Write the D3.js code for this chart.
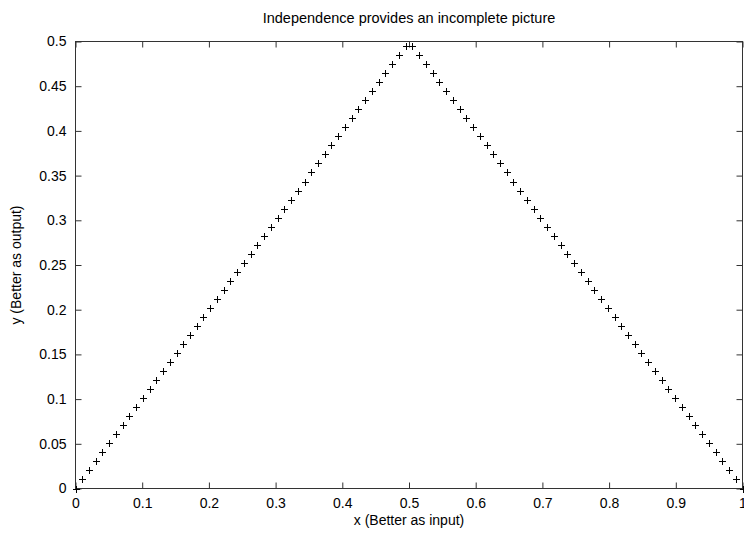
<!DOCTYPE html>
<html>
<head>
<meta charset="utf-8">
<script src="https://cdn.jsdelivr.net/npm/d3@7"></script>
<style>
  html, body { margin: 0; padding: 0; background: #fff; }
  svg { display: block; }
  text { font-family: "Liberation Sans", Arial, Helvetica, sans-serif; fill: #000; }
</style>
</head>
<body>
<svg id="chart" width="744" height="533"></svg>
<script>
// Sampled points of the curve: x (better as input) and y (better as output)
const xValues = [
  0, 0.0101, 0.0202, 0.0303, 0.0404, 0.0505, 0.0606, 0.0707, 0.0808, 0.0909,
  0.1010, 0.1111, 0.1212, 0.1313, 0.1414, 0.1515, 0.1616, 0.1717, 0.1818, 0.1919,
  0.2020, 0.2121, 0.2222, 0.2323, 0.2424, 0.2525, 0.2626, 0.2727, 0.2828, 0.2929,
  0.3030, 0.3131, 0.3232, 0.3333, 0.3434, 0.3535, 0.3636, 0.3737, 0.3838, 0.3939,
  0.4040, 0.4141, 0.4242, 0.4343, 0.4444, 0.4545, 0.4646, 0.4747, 0.4848, 0.4949,
  0.5051, 0.5152, 0.5253, 0.5354, 0.5455, 0.5556, 0.5657, 0.5758, 0.5859, 0.5960,
  0.6061, 0.6162, 0.6263, 0.6364, 0.6465, 0.6566, 0.6667, 0.6768, 0.6869, 0.6970,
  0.7071, 0.7172, 0.7273, 0.7374, 0.7475, 0.7576, 0.7677, 0.7778, 0.7879, 0.7980,
  0.8081, 0.8182, 0.8283, 0.8384, 0.8485, 0.8586, 0.8687, 0.8788, 0.8889, 0.8990,
  0.9091, 0.9192, 0.9293, 0.9394, 0.9495, 0.9596, 0.9697, 0.9798, 0.9899, 1
];
const yValues = [
  0, 0.0101, 0.0202, 0.0303, 0.0404, 0.0505, 0.0606, 0.0707, 0.0808, 0.0909,
  0.1010, 0.1111, 0.1212, 0.1313, 0.1414, 0.1515, 0.1616, 0.1717, 0.1818, 0.1919,
  0.2020, 0.2121, 0.2222, 0.2323, 0.2424, 0.2525, 0.2626, 0.2727, 0.2828, 0.2929,
  0.3030, 0.3131, 0.3232, 0.3333, 0.3434, 0.3535, 0.3636, 0.3737, 0.3838, 0.3939,
  0.4040, 0.4141, 0.4242, 0.4343, 0.4444, 0.4545, 0.4646, 0.4747, 0.4848, 0.4949,
  0.4949, 0.4848, 0.4747, 0.4646, 0.4545, 0.4444, 0.4343, 0.4242, 0.4141, 0.4040,
  0.3939, 0.3838, 0.3737, 0.3636, 0.3535, 0.3434, 0.3333, 0.3232, 0.3131, 0.3030,
  0.2929, 0.2828, 0.2727, 0.2626, 0.2525, 0.2424, 0.2323, 0.2222, 0.2121, 0.2020,
  0.1919, 0.1818, 0.1717, 0.1616, 0.1515, 0.1414, 0.1313, 0.1212, 0.1111, 0.1010,
  0.0909, 0.0808, 0.0707, 0.0606, 0.0505, 0.0404, 0.0303, 0.0202, 0.0101, 0
];

const xTicks = [0, 0.1, 0.2, 0.3, 0.4, 0.5, 0.6, 0.7, 0.8, 0.9, 1];
const xTickLabels = ["0", "0.1", "0.2", "0.3", "0.4", "0.5", "0.6", "0.7", "0.8", "0.9", "1"];
const yTicks = [0, 0.05, 0.1, 0.15, 0.2, 0.25, 0.3, 0.35, 0.4, 0.45, 0.5];
const yTickLabels = ["0", "0.05", "0.1", "0.15", "0.2", "0.25", "0.3", "0.35", "0.4", "0.45", "0.5"];

const titleText = "Independence provides an incomplete picture";
const xTitle = "x (Better as input)";
const yTitle = "y (Better as output)";

const svg = d3.select("#chart");
const plot = { left: 75.5, right: 742.5, top: 41.5, bottom: 488.5 };

const x = d3.scaleLinear().domain([0, 1]).range([plot.left, plot.right]);
const y = d3.scaleLinear().domain([0, 0.5]).range([plot.bottom, plot.top]);

const tickLen = 6;
const fontSize = 14;

// Frame
svg.append("rect")
  .attr("x", plot.left).attr("y", plot.top)
  .attr("width", plot.right - plot.left).attr("height", plot.bottom - plot.top)
  .attr("fill", "none").attr("stroke", "#333").attr("stroke-width", 1);

function styleAxis(g) {
  g.select(".domain").remove();
  g.selectAll(".tick line").attr("stroke", "#333").attr("stroke-width", 1);
  g.selectAll(".tick text")
    .attr("font-size", fontSize)
    .attr("font-family", "'Liberation Sans', Arial, sans-serif")
    .attr("fill", "#000");
}

// Bottom axis with labels, ticks pointing inward
svg.append("g")
  .attr("transform", `translate(0,${plot.bottom})`)
  .call(d3.axisBottom(x).tickValues(xTicks)
    .tickFormat((d, i) => xTickLabels[i])
    .tickSize(-tickLen).tickPadding(10))
  .call(styleAxis);

// Top mirror ticks
svg.append("g")
  .attr("transform", `translate(0,${plot.top})`)
  .call(d3.axisTop(x).tickValues(xTicks).tickFormat("").tickSize(-tickLen))
  .call(styleAxis);

// Left axis with labels
svg.append("g")
  .attr("transform", `translate(${plot.left},0)`)
  .call(d3.axisLeft(y).tickValues(yTicks)
    .tickFormat((d, i) => yTickLabels[i])
    .tickSize(-tickLen).tickPadding(9))
  .call(styleAxis);

// Right mirror ticks
svg.append("g")
  .attr("transform", `translate(${plot.right},0)`)
  .call(d3.axisRight(y).tickValues(yTicks).tickFormat("").tickSize(-tickLen))
  .call(styleAxis);

// Titles
svg.append("text")
  .attr("x", (plot.left + plot.right) / 2).attr("y", 23)
  .attr("text-anchor", "middle").attr("font-size", 14.5)
  .text(titleText);

svg.append("text")
  .attr("x", (plot.left + plot.right) / 2).attr("y", 525)
  .attr("text-anchor", "middle").attr("font-size", fontSize)
  .text(xTitle);

svg.append("text")
  .attr("transform", `translate(21,${(plot.top + plot.bottom) / 2}) rotate(-90)`)
  .attr("text-anchor", "middle").attr("font-size", fontSize)
  .text(yTitle);

// Plus markers
const arm = 3.5;
const pts = xValues.map((v, i) => ({ x: v, y: yValues[i] }));
svg.append("g")
  .selectAll("path")
  .data(pts)
  .join("path")
  .attr("d", d => {
    const px = Math.round(x(d.x)) + 0.5, py = Math.round(y(d.y)) + 0.5;
    return `M${px - arm},${py}H${px + arm}M${px},${py - arm}V${py + arm}`;
  })
  .attr("stroke", "#000").attr("stroke-width", 1).attr("fill", "none");
</script>
</body>
</html>
